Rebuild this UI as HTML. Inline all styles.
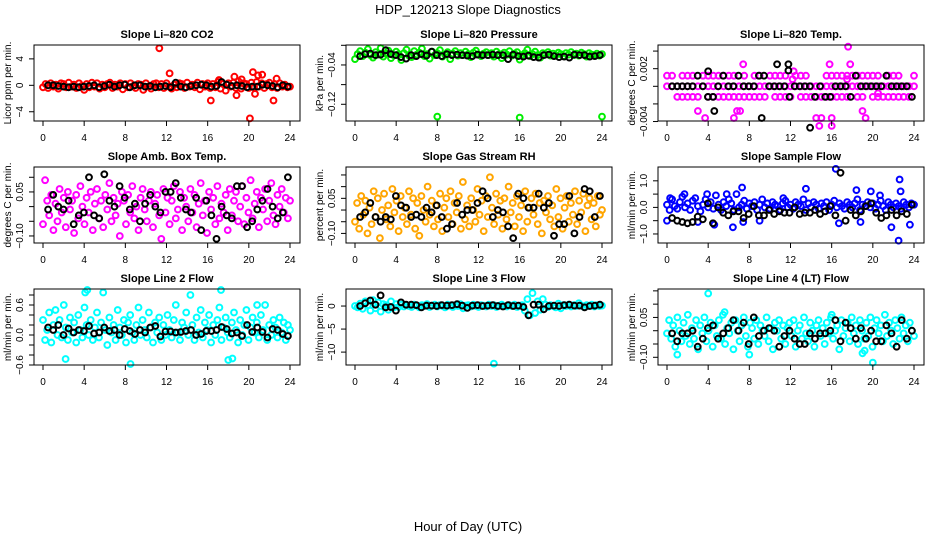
<!DOCTYPE html>
<html><head><meta charset="utf-8"><style>
html,body{margin:0;padding:0;background:#fff;}
svg{display:block;font-family:"Liberation Sans",Arial,sans-serif;}
</style></head><body>
<svg id="chart" width="936" height="540" viewBox="0 0 936 540">
<text x="468" y="14" font-size="13" text-anchor="middle">HDP_120213  Slope Diagnostics</text>
<text x="468" y="531" font-size="13" text-anchor="middle">Hour of Day (UTC)</text>
</svg>
<script>
// ---- data ----
const xTicks = [0,4,8,12,16,20,24];

const co2Color = [-0.3,0.2,-0.4,0.3,-0.2,0.1,-0.5,0.3,0.2,-0.3,0.4,-0.2,0.1,-0.4,0.3,-0.1,-0.7,0.2,-0.3,0.4,-0.2,0.3,-0.5,0.1,-0.3,0.2,0.4,-0.4,0.1,-0.2,0.3,-0.6,0.2,-0.3,0.3,-0.1,-0.4,0.2,0.1,-0.7,0.3,-0.2,-0.5,0.2,0.3,-0.3,0.2,-0.4,0.3,-0.2,-0.5,0.1,-0.3,0.3,0.2,-0.4,0.4,-0.2,0.1,-0.3,0.4,-0.6,0.2,-0.2,0.3,-0.4,0.2,-0.3,0.5,-0.5,0.2,-0.8,0.3,-0.2,0.4,-0.4,0.6,-0.5,0.3,0.2,-0.4,0.4,-0.3,0.5,-0.2,0.3,-0.4,0.2,0.4,-0.3,0.2,-0.4,0.3,-0.2,0.1,-0.3,-0.2];
const co2OutHours = [11.3,12.3,16.3,17.1,18.6,18.8,19.3,20.1,20.4,20.6,20.9,21.3,22.4,22.7];
const co2OutValues = [5.6,1.8,-2.3,0.8,1.3,-1.5,0.9,-5.0,2.0,-1.3,1.5,1.6,-2.3,1.0];
const co2Black = [0,0,-0.1,-0.2,-0.3,-0.2,-0.3,-0.2,-0.1,0,-0.3,-0.1,0.1,-0.2,0,0.1,-0.3,0,0,-0.2,-0.1,-0.3,-0.2,-0.1,-0.3,0.4,-0.2,-0.3,-0.1,0,0.1,0,-0.2,-0.1,0.5,0.1,-0.1,0,-0.1,-0.3,-0.2,-0.2,0.1,0,-0.1,-0.3,0,-0.2];

const presColor = [-0.028,-0.018,-0.012,-0.022,-0.015,-0.008,-0.02,-0.025,-0.014,-0.019,-0.006,-0.023,-0.017,-0.011,-0.026,-0.02,-0.013,-0.018,-0.03,-0.016,-0.009,-0.021,-0.024,-0.012,-0.019,-0.015,-0.007,-0.022,-0.018,-0.027,-0.013,-0.02,-0.016,-0.01,-0.023,-0.019,-0.014,-0.028,-0.017,-0.012,-0.021,-0.016,-0.02,-0.013,-0.018,-0.024,-0.015,-0.011,-0.019,-0.022,-0.017,-0.014,-0.02,-0.016,-0.023,-0.013,-0.018,-0.026,-0.015,-0.019,-0.012,-0.021,-0.017,-0.014,-0.029,-0.02,-0.016,-0.009,-0.022,-0.018,-0.013,-0.02,-0.025,-0.016,-0.019,-0.014,-0.021,-0.017,-0.02,-0.015,-0.018,-0.022,-0.016,-0.019,-0.014,-0.02,-0.017,-0.021,-0.015,-0.018,-0.023,-0.016,-0.019,-0.02,-0.017,-0.021,-0.018];
const presOutHours = [8,16,24];
const presOutValues = [-0.145,-0.147,-0.145];
const presBlack = [-0.022,-0.018,-0.017,-0.02,-0.019,-0.01,-0.018,-0.02,-0.024,-0.027,-0.02,-0.022,-0.018,-0.021,-0.013,-0.02,-0.022,-0.018,-0.02,-0.019,-0.02,-0.021,-0.022,-0.019,-0.02,-0.02,-0.019,-0.02,-0.02,-0.028,-0.019,-0.022,-0.023,-0.021,-0.024,-0.025,-0.02,-0.019,-0.022,-0.024,-0.023,-0.025,-0.019,-0.02,-0.02,-0.023,-0.022,-0.02];

const tempMid = [0,0,0,0,0,0,0,0,0,0,0,0,0,0,0,0,0,0,0,0,0,0,0,0,0,0,0,0,0,0,0,0,0,0,0,0,0,0,0,0,0,0,0,0,0,0,0,0,0];
const tempHigh = [0.0012,0.0012,null,0.0012,0.0012,0.0012,null,0.0012,0.0012,0.0012,0.0012,0.0012,0.0012,0.0012,null,0.0012,null,0.0012,0.0012,null,0.0012,0.0012,0.0012,0.0012,null,0.0012,0.0012,0.0012,null,null,null,0.0012,0.0012,0.0012,0.0012,0.0012,0.0012,0.0012,0.0012,0.0012,0.0012,0.0012,null,0.0012,0.0012,0.0012,null,null,0.0012];
const tempLow = [null,null,-0.0012,-0.0012,-0.0012,-0.0012,-0.0012,null,-0.0012,-0.0012,-0.0012,-0.0012,-0.0012,-0.0012,-0.0012,-0.0012,-0.0012,-0.0012,-0.0012,-0.0012,null,-0.0012,-0.0012,-0.0012,-0.0012,null,-0.0012,-0.0012,-0.0012,-0.0012,-0.0012,-0.0012,-0.0012,-0.0012,-0.0012,-0.0012,null,-0.0012,-0.0012,null,-0.0012,-0.0012,-0.0012,-0.0012,-0.0012,-0.0012,-0.0012,-0.0012,null];
const tempOutHours = [7.4,17.6,17.8,15.8,12.3,3.7,6.5,14.5,15.0,16.0,14.8,16.0,19.3,19.0,6.8,7.1,3.0,20.5,12.2,17.5];
const tempOutValues = [0.0025,0.0045,0.0025,0.0025,0.0017,-0.0036,-0.0036,-0.0036,-0.0036,-0.0036,-0.0045,-0.0045,-0.0036,-0.0028,-0.0028,-0.0028,-0.0028,-0.0008,0.0008,0.0008];
const tempBlack = [0,0,0,0,0,0.0012,0,-0.0012,-0.0012,0,0.0012,0,0,0.0012,0,0,0,0.0012,0.0012,0,0,0,0,-0.0012,0,0,0,0,-0.0012,0,-0.0012,-0.0012,0,0,0,-0.0012,0.0012,0,0,0,0,0,0.0012,0,0,0,0,-0.0012];
const tempBlackOutHours = [4.0,10.7,11.8,11.8,9.2,13.9,4.6];
const tempBlackOutValues = [0.0017,0.0025,0.0025,0.0018,-0.0036,-0.0047,-0.0028];

const ambColor = [-0.06,0.09,0.02,-0.03,0.04,-0.08,0.01,-0.05,0.06,-0.02,0.03,-0.07,0.05,-0.01,0.02,-0.09,0.04,-0.04,0.07,0.00,-0.06,0.03,-0.02,0.05,-0.08,0.01,0.06,-0.04,0.02,-0.07,0.04,-0.01,0.08,-0.05,0.03,-0.03,0.01,-0.10,0.05,0.02,-0.06,0.04,-0.02,0.07,-0.04,0.00,-0.08,0.03,0.06,-0.01,-0.05,0.02,0.05,-0.07,0.01,0.04,-0.03,-0.11,0.06,-0.02,0.03,-0.06,0.02,0.07,-0.04,-0.01,0.05,-0.08,0.03,0.00,-0.05,0.06,-0.02,0.04,-0.07,0.01,0.08,-0.03,0.02,-0.09,0.05,-0.01,0.03,-0.06,0.07,-0.04,0.01,-0.02,0.04,-0.08,0.06,-0.03,0.02,0.05,-0.05,0.00,0.07,-0.06,0.03,-0.02,0.09,-0.04,0.01,0.05,-0.07,0.03,-0.01,0.06,-0.05,0.02,0.08,-0.03,-0.06,0.04,0.00,0.06,-0.02,0.03,-0.04,0.02];
const ambBlack = [-0.01,0.04,0.00,-0.01,0.02,-0.06,-0.03,-0.02,0.10,-0.03,-0.04,0.11,0.02,0.00,0.07,0.03,-0.01,0.01,-0.05,0.01,0.04,0.00,-0.02,0.05,0.05,0.08,0.03,-0.01,-0.02,0.03,-0.08,0.02,-0.03,-0.11,0.00,-0.03,-0.04,0.07,0.07,-0.07,-0.05,-0.01,0.02,0.06,0.00,-0.04,-0.02,0.10];

const rhColor = [-0.05,0.03,-0.08,0.06,-0.02,0.04,-0.1,0.01,-0.06,0.08,-0.03,0.05,-0.12,0.0,0.07,-0.04,0.02,-0.07,0.09,-0.01,0.04,-0.09,0.06,-0.03,0.01,-0.06,0.08,-0.02,0.05,-0.08,0.03,-0.11,0.06,0.0,-0.05,0.1,-0.02,0.04,-0.07,0.02,-0.04,0.07,-0.09,0.01,0.05,-0.03,0.08,-0.06,0.03,-0.01,0.06,-0.08,0.12,-0.04,0.02,-0.07,0.05,0.0,-0.05,0.09,-0.02,0.04,-0.09,0.06,-0.03,0.14,0.01,-0.06,0.07,-0.02,0.04,-0.08,0.05,-0.04,0.1,-0.01,0.03,-0.07,0.06,-0.03,0.02,-0.09,0.08,-0.05,0.01,0.05,-0.02,0.07,-0.06,0.03,-0.1,0.04,-0.01,0.06,-0.04,0.02,-0.07,0.09,-0.03,0.05,-0.08,0.01,0.06,-0.05,0.03,-0.02,0.08,-0.06,0.04,-0.01,0.07,-0.09,0.02,0.05,-0.04,0.03,-0.07,0.06,-0.02,0.0];
const rhBlack = [-0.03,-0.01,0.03,-0.03,-0.05,-0.03,-0.04,0.06,0.02,0.01,-0.03,-0.02,-0.03,0.01,-0.01,0.02,-0.03,-0.08,-0.06,0.03,-0.02,0.0,0.0,0.03,0.08,0.05,-0.03,0.0,-0.01,-0.07,-0.12,0.07,0.05,0.01,0.01,0.07,0.01,0.03,-0.11,-0.06,-0.06,0.06,-0.1,-0.03,0.09,0.08,-0.03,0.06];

const flowColor = [0.1,-0.1,0.3,0.05,-0.05,0.2,0.4,0.0,0.15,-0.1,0.25,0.35,0.05,-0.15,0.1,0.3,0.0,0.2,-0.05,0.45,0.1,-0.1,0.2,0.05,0.3,0.15,-0.1,0.5,0.0,0.1,0.25,-0.05,0.15,0.05,0.2,-0.1,0.1,0.3,0.0,0.15,-0.05,0.2,0.1,0.05,-0.1,0.15,0.25,0.0,0.1,-0.05,0.2,0.1,0.05,0.3,-0.1,0.15,0.0,0.2,0.1,-0.05,0.15,0.05,0.2,-0.1,0.1,0.25,0.0,0.15,0.05,-0.05,0.2,0.1,0.0,0.15,0.3,-0.1,0.1,0.05,0.2,0.0,0.15,-0.05,0.1,0.25,0.05,-0.1,0.2,0.1,0.0,0.15,0.05,-0.05,0.2,0.1,0.0,0.15,0.1];
const flowOutHours = [0,0.3,1.7,3.0,3.9,4.6,5.8,6.4,7.3,7.4,9.0,11.3,13.5,16.4,16.7,18.4,18.8,19.8,20.7,21.8,22.5,22.6,22.7,23.6];
const flowOutValues = [-0.5,0.35,0.5,-0.55,0.5,-0.65,0.5,-0.75,0.75,-0.55,-0.5,0.35,0.7,1.45,-0.6,0.65,-0.55,0.6,0.45,-0.75,-1.25,1.05,0.6,-0.65];
const flowBlack = [-0.4,-0.5,-0.55,-0.6,-0.55,-0.35,-0.45,0.15,-0.6,0.0,-0.2,-0.3,-0.15,-0.15,-0.4,-0.25,0.05,-0.3,-0.3,-0.1,-0.25,-0.15,-0.2,-0.2,0.0,-0.25,-0.2,-0.2,-0.1,-0.25,-0.15,0.05,-0.3,1.3,-0.5,-0.1,-0.3,-0.15,0.05,0.15,-0.2,-0.4,-0.3,-0.1,-0.3,-0.15,-0.25,0.1];

const line2Color = [0.3,-0.1,0.1,0.45,-0.15,0.2,0.5,0.0,0.3,-0.05,0.6,0.15,-0.1,0.35,0.05,0.25,-0.15,0.4,0.1,-0.05,0.55,0.2,0.0,0.3,-0.1,0.15,0.45,-0.05,0.25,0.85,0.1,-0.2,0.35,0.05,0.2,-0.1,0.5,0.15,0.0,0.3,-0.15,0.25,0.4,0.05,-0.1,0.2,0.55,0.0,0.3,0.1,-0.05,0.45,0.15,-0.15,0.25,0.05,0.35,-0.1,0.2,0.0,0.4,0.1,-0.05,0.3,0.6,0.05,-0.1,0.25,0.15,0.45,0.0,0.8,0.2,-0.1,0.35,0.05,0.5,-0.05,0.25,0.1,0.4,-0.15,0.2,0.0,0.3,0.55,-0.1,0.15,0.35,0.05,-0.05,0.25,0.45,0.1,-0.15,0.3,0.0,0.2,0.5,-0.1,0.15,0.35,0.05,0.25,-0.05,0.4,0.1,0.6,-0.1,0.2,0.0,0.3,0.15,-0.05,0.35,0.05,0.25,-0.1,0.2,0.1];
const line2OutHours = [2.2,8.5,18.0,18.4,4.1,4.3,17.3,20.8];
const line2OutValues = [-0.48,-0.58,-0.5,-0.47,0.85,0.9,0.9,0.6];
const line2Black = [0.15,0.1,0.2,0.0,0.13,0.05,0.1,0.08,0.18,0.03,0.05,0.15,0.08,0.1,0.0,0.12,0.08,0.02,0.1,0.05,0.15,0.18,-0.03,0.07,0.07,0.05,0.06,0.08,0.1,0.0,0.02,0.08,0.08,0.1,0.16,0.12,0.03,0.05,-0.02,0.2,0.06,0.15,0.06,-0.05,0.12,0.1,0.02,-0.02];

const line3Color = [0.0,-0.3,0.5,-0.6,1.0,0.2,-1.0,1.3,-0.5,0.8,-1.2,0.4,0.2,-0.8,1.0,-0.3,0.4,-0.2,0.3,-0.1,0.2,0.0,-0.2,0.3,0.1,-0.3,0.2,0.0,0.4,-0.2,0.1,0.3,-0.1,0.2,0.0,-0.3,0.3,0.1,-0.2,0.2,0.0,0.4,-0.5,0.1,0.2,-0.1,0.3,0.0,-0.2,0.2,0.1,-0.1,0.3,0.0,0.2,-0.2,0.1,0.3,0.0,-0.1,0.2,0.0,0.3,-0.2,0.1,0.2,-1.0,1.5,-2.0,2.8,-1.5,1.0,-0.8,1.5,0.3,-0.2,0.2,0.0,-0.3,0.5,-0.5,0.2,0.0,0.3,-0.1,0.2,0.0,0.6,0.1,-0.2,0.2,0.0,0.3,-0.1,0.2,0.0,0.1];
const line3OutHours = [13.5];
const line3OutValues = [-12.5];
const line3Black = [0.0,0.6,1.2,0.3,2.3,-0.3,-0.2,-1.0,0.8,0.3,0.3,0.2,-0.3,0.1,0.1,0.0,0.2,0.1,0.2,0.4,0.1,-0.4,0.1,0.2,0.0,0.1,0.2,0.0,-0.1,0.2,0.0,0.1,-0.2,-2.0,0.3,0.3,-0.7,0.0,0.1,0.0,0.2,0.3,0.1,0.1,-0.3,0.0,0.1,0.3];

const line4Color = [-0.01,0.04,-0.03,0.02,-0.06,0.05,0.0,-0.04,0.03,-0.02,0.06,-0.05,0.01,-0.03,0.04,-0.07,0.02,-0.01,0.05,-0.04,0.0,0.03,-0.06,0.02,-0.02,0.04,-0.03,0.06,-0.05,0.01,-0.01,0.03,-0.07,0.04,0.0,-0.04,0.02,0.05,-0.02,-0.06,0.03,0.01,-0.03,0.04,-0.05,0.02,0.0,-0.02,0.05,-0.04,0.01,-0.07,0.03,0.0,0.04,-0.03,0.02,-0.05,0.01,0.03,-0.02,0.04,-0.06,0.0,0.02,-0.03,0.05,-0.01,-0.04,0.03,0.0,-0.06,0.02,0.04,-0.02,0.01,-0.05,0.03,-0.01,0.05,-0.03,0.0,0.02,-0.07,0.04,-0.02,0.01,0.03,-0.04,0.05,-0.01,0.02,-0.05,0.04,0.0,-0.03,0.03,-0.02,0.05,-0.06,0.01,0.04,-0.01,0.02,-0.04,0.06,-0.02,0.03,0.0,-0.05,0.04,0.01,-0.03,0.05,-0.01,0.02,-0.04,0.03,0.0,-0.02];
const line4OutHours = [1.0,4.0,8.0,19.0,19.2,20.0,5.6,16.0];
const line4OutValues = [-0.09,0.14,-0.09,-0.085,-0.075,-0.12,0.07,0.06];
const line4Black = [-0.01,-0.04,-0.01,-0.01,0.0,-0.06,-0.03,0.01,0.02,-0.03,-0.01,0.01,0.04,0.0,0.03,-0.05,0.05,-0.02,0.0,0.01,0.0,-0.06,-0.02,0.0,-0.03,-0.05,-0.05,-0.01,-0.03,-0.01,-0.01,0.0,0.04,-0.04,0.03,0.01,-0.03,0.01,-0.03,0.0,-0.04,-0.04,0.02,-0.01,-0.06,0.04,-0.03,0.0];

// ---- panel definitions ----
const panels = [
 {name:'co2', title:'Slope Li\u2013820 CO2', ylab:'Licor ppm per min.', dom:[-5.4,6.1], ticks:[-4,0,4], labels:['\u22124','0','4'],
  grid:[{c:'#ff0000',v:co2Color}], out:[{c:'#ff0000',h:co2OutHours,v:co2OutValues}], black:co2Black, bout:null},
 {name:'pressure', title:'Slope Li\u2013820 Pressure', ylab:'kPa per min.', dom:[-0.154,0.0006], ticks:[0,-0.04,-0.08,-0.12], labels:['','\u22120.04','','\u22120.12'],
  grid:[{c:'#00ee00',v:presColor}], out:[{c:'#00ee00',h:presOutHours,v:presOutValues}], black:presBlack, bout:null},
 {name:'li820-temp', title:'Slope Li\u2013820 Temp.', ylab:'degrees C per min.', dom:[-0.00394,0.00469], ticks:[0.004,0.002,0,-0.002,-0.004], labels:['','0.002','','','\u22120.004'],
  grid:[{c:'#ff00ff',v:tempMid},{c:'#ff00ff',v:tempHigh},{c:'#ff00ff',v:tempLow}], out:[{c:'#ff00ff',h:tempOutHours,v:tempOutValues}], black:tempBlack, bout:{h:tempBlackOutHours,v:tempBlackOutValues}},
 {name:'amb-box-temp', title:'Slope Amb. Box Temp.', ylab:'degrees C per min.', dom:[-0.124,0.135], ticks:[0.10,0.05,0,-0.05,-0.10], labels:['','0.05','','','\u22120.10'],
  grid:[{c:'#ff00ff',v:ambColor}], out:[], black:ambBlack, bout:null},
 {name:'gas-stream-rh', title:'Slope Gas Stream RH', ylab:'percent per min.', dom:[-0.141,0.184], ticks:[0.15,0.10,0.05,0,-0.05,-0.10], labels:['','','0.05','','','\u22120.10'],
  grid:[{c:'#ffa500',v:rhColor}], out:[], black:rhBlack, bout:null},
 {name:'sample-flow', title:'Slope Sample Flow', ylab:'ml/min per min.', dom:[-1.34,1.52], ticks:[1.0,0.5,0,-0.5,-1.0], labels:['1.0','','0.0','','\u22121.0'],
  grid:[{c:'#0000ff',v:flowColor}], out:[{c:'#0000ff',h:flowOutHours,v:flowOutValues}], black:flowBlack, bout:null},
 {name:'line2-flow', title:'Slope Line 2 Flow', ylab:'ml/min per min.', dom:[-0.6,0.92], ticks:[0.8,0.6,0.4,0.2,0,-0.2,-0.4,-0.6], labels:['','0.6','','','0.0','','','\u22120.6'],
  grid:[{c:'#00ffff',v:line2Color}], out:[{c:'#00ffff',h:line2OutHours,v:line2OutValues}], black:line2Black, bout:null},
 {name:'line3-flow', title:'Slope Line 3 Flow', ylab:'ml/min per min.', dom:[-12.8,3.7], ticks:[0,-5,-10], labels:['0','\u22125','\u221210'],
  grid:[{c:'#00ffff',v:line3Color}], out:[{c:'#00ffff',h:line3OutHours,v:line3OutValues}], black:line3Black, bout:null},
 {name:'line4-flow', title:'Slope Line 4 (LT) Flow', ylab:'ml/min per min.', dom:[-0.129,0.157], ticks:[0.15,0.10,0.05,0,-0.05,-0.10], labels:['','','0.05','','','\u22120.10'],
  grid:[{c:'#00ffff',v:line4Color}], out:[{c:'#00ffff',h:line4OutHours,v:line4OutValues}], black:line4Black, bout:null}
];

const NS = 'http://www.w3.org/2000/svg';
const svg = document.getElementById('chart');
function mk(tag, attrs, parent){ const e=document.createElementNS(NS,tag); for(const k in attrs) e.setAttribute(k,attrs[k]); (parent||svg).appendChild(e); return e; }

panels.forEach((p, idx) => {
  const col = idx % 3, row = Math.floor(idx / 3);
  const L = 34 + 312*col, R = L + 266, T = 45 + 122*row, B = T + 76;
  const xS = h => L + 9 + h * 247 / 24;
  const yS = v => B - (v - p.dom[0]) / (p.dom[1] - p.dom[0]) * 76;
  const g = mk('g', {});
  
  

  const pts = mk('g', {fill:'none','stroke-width':'2'}, g);
  
  
  function dot(h, v, c){
    if (v === null || v === undefined) return;
    const ci = mk('circle', {cx:xS(h).toFixed(1), cy:yS(v).toFixed(1), r:'2.9', stroke:c}, pts);
    
    
  }
  p.grid.forEach(s => { const n = s.v.length; s.v.forEach((v,i) => dot(i*24/(n-1), v, s.c)); });
  p.out.forEach(s => s.h.forEach((h,i) => dot(h, s.v[i], s.c)));
  const nb = p.black.length;
  p.black.forEach((v,i) => dot(0.5 + i*23.3/(nb-1), v, '#000'));
  if (p.bout) p.bout.h.forEach((h,i) => dot(h, p.bout.v[i], '#000'));

  const box = mk('rect', {x:L, y:T, width:R-L, height:B-T, fill:'none', stroke:'#000', 'stroke-width':'1'}, g);
  
  

  const t = mk('text', {x:(L+R)/2, y:T-7, 'font-size':'11', 'font-weight':'bold', 'text-anchor':'middle'}, g);
  t.textContent = p.title;
  
  

  const xa = mk('g', {}, g);
  
  
  mk('line', {x1:xS(0), x2:xS(24), y1:B, y2:B, stroke:'#000'}, xa);
  xTicks.forEach(h => {
    mk('line', {x1:xS(h), x2:xS(h), y1:B, y2:B+5, stroke:'#000'}, xa);
    const tl = mk('text', {x:xS(h), y:B+20, 'font-size':'10', 'text-anchor':'middle'}, xa);
    tl.textContent = h;
    
    
  });

  const ya = mk('g', {}, g);
  
  
  p.ticks.forEach((v,i) => {
    const y = yS(v);
    mk('line', {x1:L-5, x2:L, y1:y, y2:y, stroke:'#000'}, ya);
    if (p.labels[i]) {
      const tl = mk('text', {x:L-11, y:y, 'font-size':'10', 'text-anchor':'middle', transform:`rotate(-90 ${L-11} ${y})`}, ya);
      tl.textContent = p.labels[i];
      
      
    }
  });
  const yl = mk('text', {x:L-23, y:(T+B)/2, 'font-size':'10', 'text-anchor':'middle', transform:`rotate(-90 ${L-23} ${(T+B)/2})`}, g);
  yl.textContent = p.ylab;
  
  
});
</script>
</body></html>
